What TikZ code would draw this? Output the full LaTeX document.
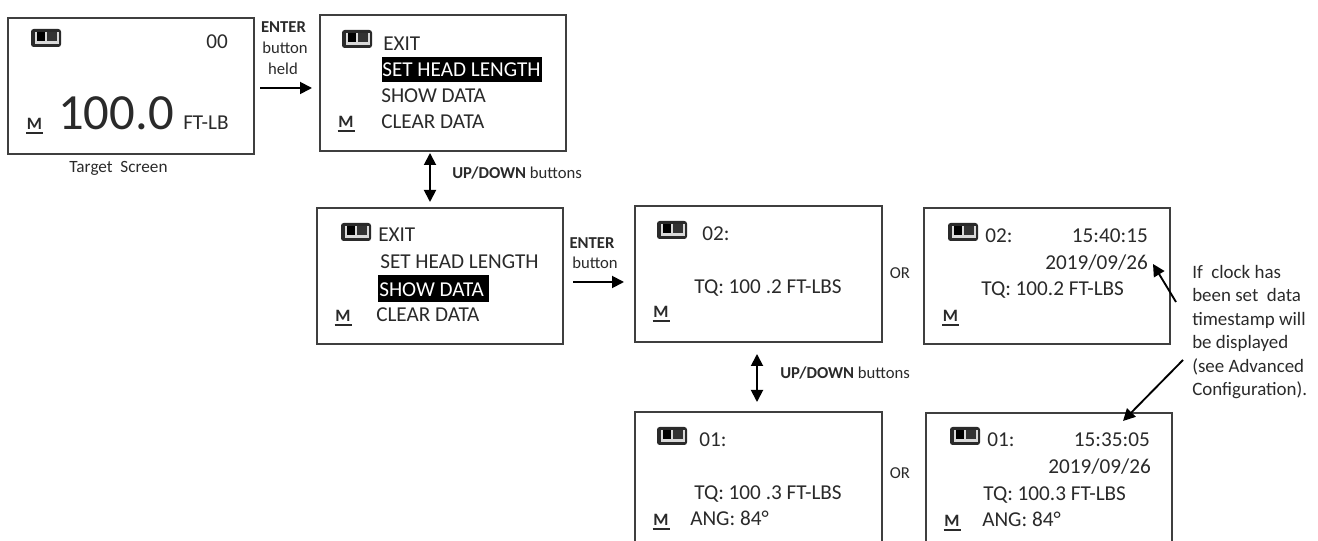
\documentclass[tikz,border=0pt]{standalone}
\usepackage{fontspec}
\setmainfont{Carlito}
\usetikzlibrary{arrows.meta}
\definecolor{ink}{HTML}{2A2A2A}
\tikzset{
  x=0.75pt,y=-0.75pt,
  screen/.style={draw=ink!90,line width=1.3pt,fill=white,inner sep=0,anchor=north west},
  lbl/.style={anchor=base west,inner sep=0,text=ink,font=\fontsize{15.9}{16}\selectfont},
  sm/.style={anchor=base,inner sep=0,text=ink,font=\fontsize{12.5}{14}\selectfont},
  hi/.style={anchor=base west,inner sep=0,text=white,font=\fontsize{15.9}{16}\selectfont},
  hibg/.style={fill=black,inner sep=0,anchor=north west},
  mm/.style={anchor=base,inner sep=0,text=ink,font=\fontsize{13}{13}\selectfont\bfseries},
  arr/.style={draw=black,line width=1.4pt,-{Triangle[length=9pt,width=9pt]}},
  darr/.style={draw=black,line width=1.4pt,{Triangle[length=9pt,width=9pt]}-{Triangle[length=9pt,width=9pt]}},
}
\newcommand{\batticon}[2]{%
  \fill[ink,rounded corners=2pt] (#1,#2) rectangle ++(30,18);
  \fill[white!70!gray] (#1+4,#2+3) rectangle ++(24,12);
  \fill[black] (#1+6,#2+3) rectangle ++(8,9.5);
  \fill[black!80] (#1+16,#2+3) rectangle ++(10,9.5);
}
\newcommand{\mmark}[2]{%
  \node[mm] at (#1,#2) {M};
  \draw[ink,line width=1pt] (#1-8.5,#2+3) -- (#1+8.5,#2+3);
}
\begin{document}
\begin{tikzpicture}
\useasboundingbox (0,0) rectangle (1318,541);
\clip (0,0) rectangle (1318,541);
% screens
\node[screen,minimum width=246pt*0.75,minimum height=136pt*0.75] (sA) at (7,17) {};
\node[screen,minimum width=246pt*0.75,minimum height=136pt*0.75] (sB) at (319,14) {};
\node[screen,minimum width=246pt*0.75,minimum height=136pt*0.75] (sC) at (316,207) {};
\node[screen,minimum width=247pt*0.75,minimum height=136pt*0.75] (sD) at (634,205) {};
\node[screen,minimum width=246pt*0.75,minimum height=136pt*0.75] (sE) at (923,207) {};
\node[screen,minimum width=247pt*0.75,minimum height=160pt*0.75] (sG) at (634,411) {};
\node[screen,minimum width=246pt*0.75,minimum height=160pt*0.75] (sF) at (925,412) {};
% Target screen
\batticon{31}{29}
\node[lbl] (a00) at (206,49) {00};
\mmark{34.5}{130}
\node[anchor=base west,inner sep=0,text=ink,font=\fontsize{38}{44}\selectfont] (a100) at (58,130) {100.0};
\node[lbl] (aft) at (183,130) {FT-LB};
\node[sm,font=\fontsize{12.9}{14}\selectfont] (tgt) at (118.5,173) {Target\ \ Screen};
% Menu B
\batticon{342}{30}
\node[lbl] (b1) at (383,51) {EXIT};
\node[hibg,minimum width=160pt*0.75,minimum height=25pt*0.75] (bh) at (382,57) {};
\node[hi] (b2) at (382,77) {SET HEAD LENGTH};
\node[lbl] (b3) at (381,103) {SHOW DATA};
\node[lbl] (b4) at (381,129) {CLEAR DATA};
\mmark{346}{128}
% Menu C
\batticon{341}{223}
\node[lbl] (c1) at (378,242) {EXIT};
\node[lbl] (c2) at (380,269) {SET HEAD LENGTH};
\node[hibg,minimum width=111pt*0.75,minimum height=27pt*0.75] (ch) at (378,275) {};
\node[hi] (c3) at (379,297) {SHOW DATA};
\node[lbl] (c4) at (376,322) {CLEAR DATA};
\mmark{343}{322}
% D
\batticon{657}{221}
\node[lbl] (d1) at (702,241) {02:};
\node[lbl] (d2) at (694,294) {TQ: 100 .2 FT-LBS};
\mmark{661}{318}
% E
\batticon{948}{223}
\node[lbl] (e1) at (985,243) {02:};
\node[lbl,anchor=base east] (e2) at (1148,243) {15:40:15};
\node[lbl,anchor=base east] (e3) at (1148,270) {2019/09/26};
\node[lbl] (e4) at (981,296) {TQ: 100.2 FT-LBS};
\mmark{950.5}{322}
% G
\batticon{657}{427}
\node[lbl] (g1) at (699,447) {01:};
\node[lbl] (g2) at (694,500) {TQ: 100 .3 FT-LBS};
\node[lbl] (g3) at (690,526) {ANG: 84°};
\mmark{661}{526}
% F
\batticon{950}{427}
\node[lbl] (f1) at (987,447) {01:};
\node[lbl,anchor=base east] (f2) at (1150,447) {15:35:05};
\node[lbl,anchor=base east] (f3) at (1151,474) {2019/09/26};
\node[lbl] (f4) at (983,501) {TQ: 100.3 FT-LBS};
\node[lbl] (f5) at (982,527) {ANG: 84°};
\mmark{952}{527}
% labels
\node[sm,font=\fontsize{12.5}{14}\selectfont\bfseries] (l1) at (283.5,33) {ENTER};
\node[sm] (l2) at (285,54) {button};
\node[sm] (l3) at (283,75) {held};
\node[sm,anchor=base west] (l4) at (452,179) {\textbf{UP/DOWN} buttons};
\node[sm,font=\fontsize{12.5}{14}\selectfont\bfseries] (l5) at (592,249) {ENTER};
\node[sm] (l6) at (595,269) {button};
\node[sm,anchor=base west] (l7) at (780,379) {\textbf{UP/DOWN} buttons};
\node[sm] (or1) at (900,279) {OR};
\node[sm] (or2) at (900,479) {OR};
\node[anchor=north west,align=left,inner sep=0,text=ink,font=\fontsize{14.2}{17.6}\selectfont] (note) at (1192,265)
 {If\ \ clock has\\been set\ \ data\\timestamp will\\be displayed\\(see Advanced\\Configuration).};
% connectors
\coordinate (p1) at (260,88); \coordinate (p2) at (312,88);
\draw[arr] (p1) -- (p2);
\coordinate (p3) at (430,153); \coordinate (p4) at (430,202);
\draw[darr] (p3) -- (p4);
\coordinate (p5) at (573,282); \coordinate (p6) at (624,282);
\draw[arr] (p5) -- (p6);
\coordinate (p7) at (757,354); \coordinate (p8) at (757,402);
\draw[darr] (p7) -- (p8);
\coordinate (p9) at (1176,302); \coordinate (p10) at (1153,264);
\draw[arr] (p9) -- (p10);
\coordinate (p11) at (1183,360); \coordinate (p12) at (1123,421);
\draw[arr] (p11) -- (p12);
\end{tikzpicture}
\end{document}
